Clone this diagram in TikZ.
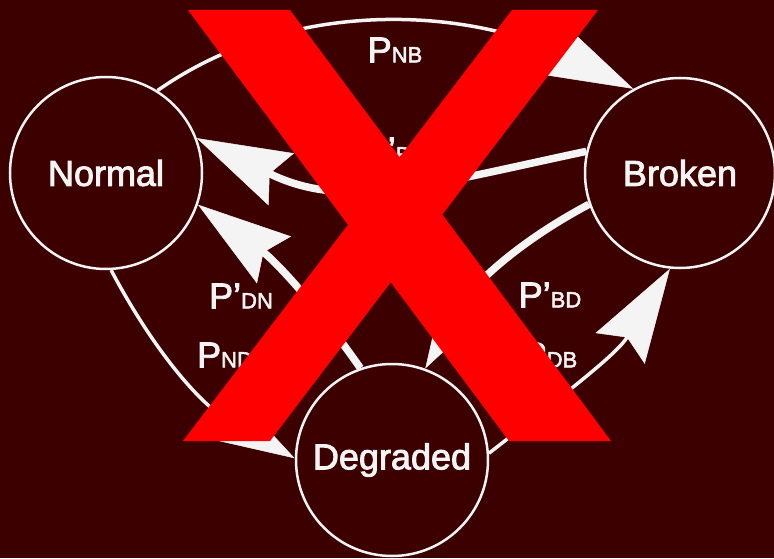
\documentclass[tikz,border=0pt]{standalone}
\usepackage{fontspec}
\setmainfont{Liberation Sans}[FakeBold=2.5]
\usetikzlibrary{arrows.meta}
\definecolor{bg}{RGB}{60,0,0}
\definecolor{fg}{RGB}{244,244,244}
\definecolor{xred}{RGB}{255,0,0}
\newcommand\Plab[2]{{\fontsize{36}{40}\selectfont P#1}{\fontsize{22}{26}\selectfont #2}}
\begin{document}
\begin{tikzpicture}[x=1pt,y=1pt,
  state/.style={circle,draw=fg,line width=2.5pt,minimum size=192pt,inner sep=0pt,text=fg,font=\fontsize{36}{40}\selectfont},
  edgethin/.style={draw=fg,line width=3.5pt},
  edgethick/.style={draw=fg,line width=7.5pt},
  bighead/.style={-{Stealth[length=94pt,width=58pt,inset=13pt,line width=0.5pt,fill=fg,color=fg]}},
  lab/.style={text=fg,inner sep=0pt},
  xstroke/.style={fill=xred,draw=none}
]
\useasboundingbox (0,0) rectangle (774,558);
\fill[bg] (0,0) rectangle (774,558);

\node[state] (N) at (106,385) {Normal};
\node[state,minimum size=190pt] (B) at (680,385) {Broken};
\node[state] (D) at (392,98) {Degraded};

% P_NB : Normal -> Broken
\draw[edgethin,bighead] (N.58) .. controls +(35:173) and +(154:173) .. (B.119);
% P'_BN : Broken -> Normal
\draw[edgethick,bighead] (B.167) .. controls +(192:165) and +(-26:165) .. (N.21);
% P'_DN : Degraded -> Normal
\draw[edgethick,bighead] (D.109) to[out=125,in=-36] (N.-19);
% P_ND : Normal -> Degraded
\draw[edgethin,bighead] (N.-87) to[out=-62,in=150] (D.179);
% P'_BD : Broken -> Degraded
\draw[edgethick,bighead] (B.199) to[out=208,in=60] (D.70);
% P_DB : Degraded -> Broken
\draw[edgethin,bighead] (D.4) to[out=38,in=238] (B.264);

\node[lab] (lNB) at (395,508) {\Plab{}{NB}};
\node[lab] (lBN) at (395,408) {\Plab{'}{BN}};
\node[lab] (lDN) at (241,262) {\Plab{'}{DN}};
\node[lab] (lND) at (225,203) {\Plab{}{ND}};
\node[lab] (lBD) at (550,263) {\Plab{'}{BD}};
\node[lab] (lDB) at (550,203) {\Plab{}{DB}};

% red X
\fill[xstroke] (188,548) -- (290,548) -- (611,117) -- (509,117) -- cycle;
\fill[xstroke] (512,548) -- (598,548) -- (270,117) -- (183,117) -- cycle;
\end{tikzpicture}
\end{document}
